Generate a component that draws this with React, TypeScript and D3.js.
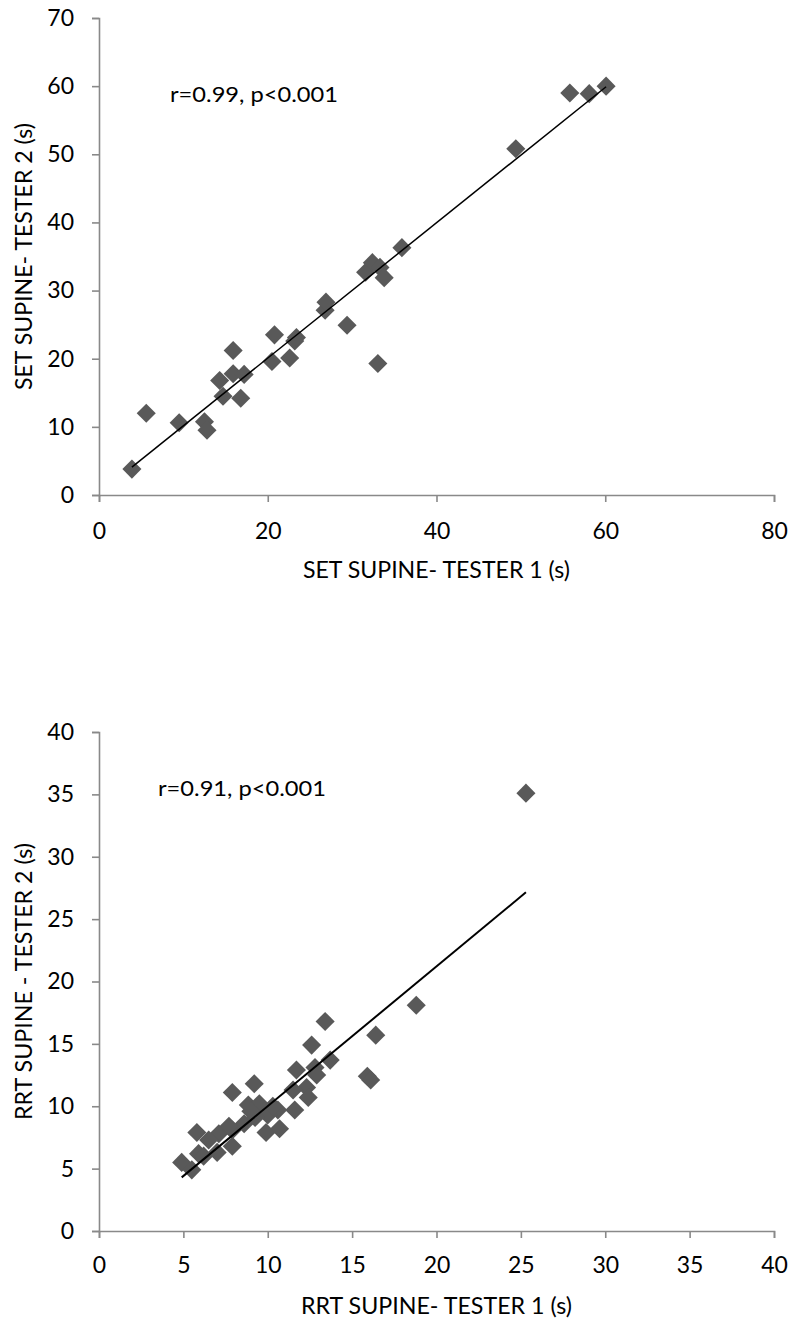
import React, { useEffect, useRef } from "react";
import * as d3 from "d3";

// SET supine (s): tester 1 vs tester 2
const setTester1 = [3.9, 5.6, 9.5, 12.5, 12.8, 14.3, 14.7, 15.9, 15.9, 16.8, 17.2, 20.5, 20.8, 22.6, 23.2, 23.4, 26.8, 26.9, 29.4, 31.6, 32.4, 33.3, 33.8, 33.05, 35.9, 49.4, 55.8, 58.1, 60.1];
const setTester2 = [3.8, 12.0, 10.6, 10.75, 9.5, 16.8, 14.5, 21.2, 17.8, 14.2, 17.7, 19.6, 23.5, 20.1, 22.6, 23.1, 27.1, 28.3, 24.9, 32.7, 34.1, 33.4, 31.9, 19.3, 36.3, 50.8, 59.0, 58.9, 60.0];

// RRT supine (s): tester 1 vs tester 2
const rrtTester1 = [25.3, 18.8, 16.4, 15.9, 16.1, 13.4, 12.6, 13.7, 11.7, 12.8, 12.9, 12.3, 12.4, 11.6, 11.5, 9.2, 7.9, 5.8, 4.9, 5.5, 5.9, 7.0, 7.1, 7.9, 7.9, 8.6, 8.85, 9.5, 9.9, 10.7, 10.6, 10.0, 9.25, 6.5, 7.7, 9.0, 10.3, 6.2];
const rrtTester2 = [35.1, 18.1, 15.7, 12.4, 12.1, 16.8, 14.9, 13.7, 12.9, 13.1, 12.5, 11.5, 10.7, 9.7, 11.3, 11.8, 11.1, 7.9, 5.5, 4.9, 6.2, 6.3, 7.8, 6.8, 8.1, 8.6, 10.1, 10.2, 7.9, 8.2, 9.7, 9.3, 9.1, 7.3, 8.4, 9.6, 10.0, 6.0];

// linear trend lines [slope, intercept]
const setTrend = [0.993, 0.23];
const rrtTrend = [1.12, -1.19];

const setXTicks = [0, 20, 40, 60, 80];
const setYTicks = [0, 10, 20, 30, 40, 50, 60, 70];
const rrtXTicks = [0, 5, 10, 15, 20, 25, 30, 35, 40];
const rrtYTicks = [0, 5, 10, 15, 20, 25, 30, 35, 40];

const FONT = "Lato, 'Liberation Sans', sans-serif";

function drawPanel(svg, opts) {
    const { xs, ys, trend, xTicks, yTicks, top, bottom, xPad, xTitle, yTitle, note, noteX, noteY, lineW } = opts;
    const left = 99, right = 774;

    const x = d3.scaleLinear().domain([xTicks[0], xTicks[xTicks.length - 1]]).range([left, right]);
    const y = d3.scaleLinear().domain([yTicks[0], yTicks[yTicks.length - 1]]).range([bottom, top]);

    const xAxis = svg.append("g")
        .attr("transform", `translate(0,${bottom})`)
        .call(d3.axisBottom(x).tickValues(xTicks).tickSize(7).tickPadding(xPad));
    const yAxis = svg.append("g")
        .attr("transform", `translate(${left},0)`)
        .call(d3.axisLeft(y).tickValues(yTicks).tickSize(7).tickPadding(18));

    [xAxis, yAxis].forEach((g) => {
        g.selectAll("path, line").attr("stroke", "#898989").attr("stroke-width", 1.6);
        g.selectAll("text").attr("fill", "#000").style("font-family", FONT).style("font-size", "23px");
    });

    const pts = xs.map((v, i) => [v, ys[i]]);
    const sym = d3.symbol().type(d3.symbolSquare).size(182);
    svg.append("g")
        .selectAll("path")
        .data(pts)
        .enter()
        .append("path")
        .attr("d", sym)
        .attr("transform", (d) => `translate(${x(d[0])},${y(d[1])}) rotate(45)`)
        .attr("fill", "#595959");

    const [x0, x1] = d3.extent(xs);
    const line = d3.line().x((d) => x(d)).y((d) => y(trend[0] * d + trend[1]));
    svg.append("path")
        .attr("d", line([x0, x1]))
        .attr("stroke", "#000")
        .attr("stroke-width", lineW)
        .attr("fill", "none");

    svg.append("text")
        .attr("x", noteX).attr("y", noteY)
        .attr("textLength", 168).attr("lengthAdjust", "spacingAndGlyphs")
        .style("font-family", FONT).style("font-size", "22px")
        .text(note);

    svg.append("text")
        .attr("x", (left + right) / 2).attr("y", bottom + 83)
        .attr("text-anchor", "middle")
        .attr("textLength", xTitle.len).attr("lengthAdjust", "spacingAndGlyphs")
        .style("font-family", FONT).style("font-size", "23px")
        .text(xTitle.text);

    svg.append("text")
        .attr("transform", `translate(32,${(top + bottom) / 2}) rotate(-90)`)
        .attr("text-anchor", "middle")
        .attr("textLength", yTitle.len).attr("lengthAdjust", "spacingAndGlyphs")
        .style("font-family", FONT).style("font-size", "23px")
        .text(yTitle.text);
}

export default function App() {
    const ref = useRef(null);

    useEffect(() => {
        document.body.style.margin = "0";
        const svg = d3.select(ref.current);
        svg.selectAll("*").remove();

        drawPanel(svg, {
            xs: setTester1, ys: setTester2, trend: setTrend,
            xTicks: setXTicks, yTicks: setYTicks,
            top: 18, bottom: 495, xPad: 21, lineW: 1.5,
            xTitle: { text: "SET SUPINE- TESTER 1 (s)", len: 267 },
            yTitle: { text: "SET SUPINE- TESTER 2 (s)", len: 267 },
            note: "r=0.99, p<0.001", noteX: 170, noteY: 102,
        });

        drawPanel(svg, {
            xs: rrtTester1, ys: rrtTester2, trend: rrtTrend,
            xTicks: rrtXTicks, yTicks: rrtYTicks,
            top: 732, bottom: 1231, xPad: 19, lineW: 2,
            xTitle: { text: "RRT SUPINE- TESTER 1 (s)", len: 271 },
            yTitle: { text: "RRT SUPINE - TESTER 2 (s)", len: 277 },
            note: "r=0.91, p<0.001", noteX: 158, noteY: 796,
        });
    }, []);

    return <svg ref={ref} width={795} height={1321} style={{ display: "block", background: "#fff" }} />;
}
